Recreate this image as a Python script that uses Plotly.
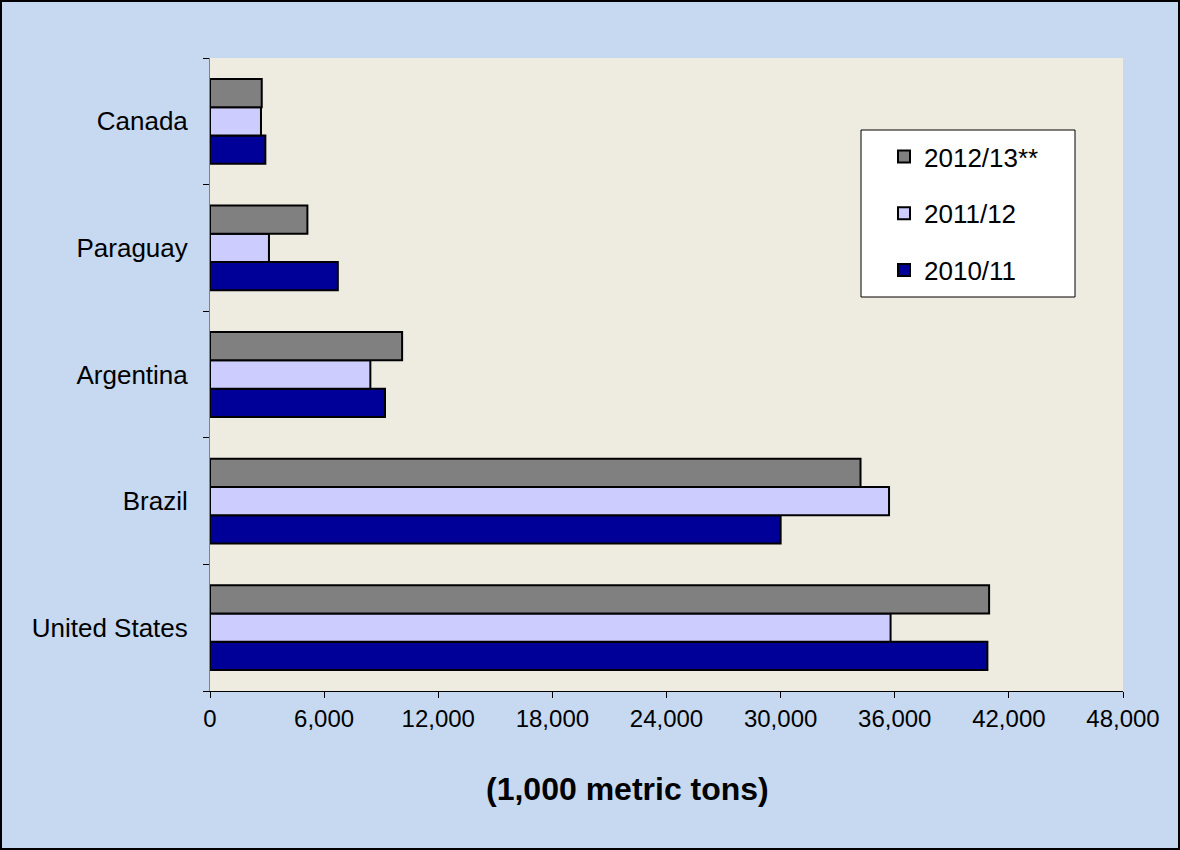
import plotly.graph_objects as go

# Countries listed bottom-to-top (Plotly puts the first category at the bottom)
countries = ["United States", "Brazil", "Argentina", "Paraguay", "Canada"]

# Values in 1,000 metric tons
y2010_11 = [40870, 30000, 9200, 6720, 2910]
y2011_12 = [35780, 35700, 8430, 3100, 2680]
y2012_13 = [40960, 34200, 10100, 5120, 2720]

series_names = ["2010/11", "2011/12", "2012/13**"]
series_values = [y2010_11, y2011_12, y2012_13]
series_colors = ["#000099", "#CCCCFF", "#808080"]
legend_ranks = [3, 2, 1]

x_ticks = [0, 6000, 12000, 18000, 24000, 30000, 36000, 42000, 48000]
x_title = "(1,000 metric tons)"

W, H = 1180, 850
ML, MR, MT, MB = 210, 57, 58, 159
PW, PH = W - ML - MR, H - MT - MB

fig = go.Figure()
for name, vals, col, rank in zip(series_names, series_values, series_colors, legend_ranks):
    fig.add_trace(go.Bar(
        y=countries, x=vals, name=name, orientation="h",
        marker=dict(color=col, line=dict(color="black", width=2)),
        legendgroup=name, legendrank=rank,
    ))


def px_x(p):
    return (p - ML) / PW


def px_y(p):
    return (H - MB - p) / PH


shapes = [
    # outer frame
    dict(type="rect", xref="paper", yref="paper",
         x0=px_x(1), x1=px_x(W - 1), y0=px_y(H - 1), y1=px_y(1),
         line=dict(color="black", width=2), layer="above"),
    # legend box
    dict(type="rect", xref="paper", yref="paper",
         x0=px_x(861), x1=px_x(1075), y0=px_y(297), y1=px_y(130),
         line=dict(color="black", width=1), fillcolor="white", layer="below"),
]

fig.update_layout(
    width=W, height=H,
    margin=dict(l=ML, r=MR, t=MT, b=MB, pad=0),
    paper_bgcolor="#C6D9F0",
    plot_bgcolor="#EEEBE0",
    barmode="group",
    bargap=0.33,
    bargroupgap=0,
    font=dict(family="Arial, Liberation Sans, sans-serif", color="black", size=24),
    shapes=shapes,
    showlegend=True,
    legend=dict(
        x=px_x(884), y=px_y(133), xanchor="left", yanchor="top",
        bgcolor="rgba(0,0,0,0)", borderwidth=0,
        traceorder="grouped", tracegroupgap=20,
        font=dict(size=26),
    ),
    annotations=[dict(
        text="<b>" + x_title + "</b>", xref="paper", yref="paper",
        x=px_x(627), y=px_y(789), xanchor="center", yanchor="middle",
        showarrow=False, font=dict(size=32),
    )],
    xaxis=dict(
        range=[0, 48000], tickvals=x_ticks,
        tickformat=",d", ticks="outside", ticklen=6, tickcolor="black",
        showgrid=False, zeroline=False,
        showline=True, linecolor="black", linewidth=1,
        tickfont=dict(size=24),
    ),
    yaxis=dict(
        tickson="boundaries", ticks="outside", ticklen=6, tickcolor="black",
        showgrid=False, showline=True, linecolor="#808080", linewidth=1,
        tickfont=dict(size=26), ticklabelstandoff=16,
    ),
)

fig.write_html("out.html")
